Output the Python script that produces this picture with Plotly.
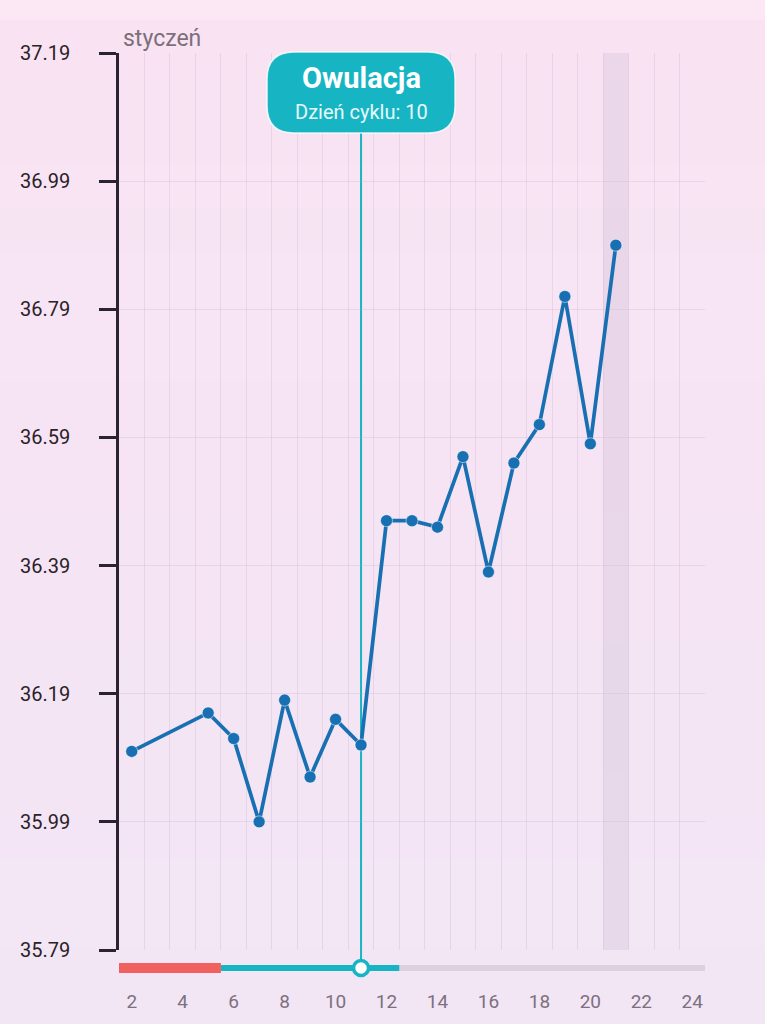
import plotly.graph_objects as go

# ---- data ----
days = [2, 5, 6, 7, 8, 9, 10, 11, 12, 13, 14, 15, 16, 17, 18, 19, 20, 21]
temps = [36.10, 36.16, 36.12, 35.99, 36.18, 36.06, 36.15, 36.11, 36.46, 36.46,
         36.45, 36.56, 36.38, 36.55, 36.61, 36.81, 36.58, 36.89]
y_ticks = [35.79, 35.99, 36.19, 36.39, 36.59, 36.79, 36.99, 37.19]
x_ticks = [2, 4, 6, 8, 10, 12, 14, 16, 18, 20, 22, 24]
month_label = "styczeń"
ovulation_day = 11
ovulation_title = "Owulacja"
ovulation_sub = "Dzień cyklu: 10"
today_day = 21
period_range = (1.5, 5.5)
fertile_range = (5.5, 12.5)
cycle_range = (1.5, 24.5)

# ---- style ----
W, H = 765, 1024
ML, MR, MT, MB = 119, 60, 53, 74
PW, PH = W - ML - MR, H - MT - MB
LINE_C = "#1870b2"
TEAL = "#17b5c3"
AXIS_C = "#2b2430"
GRID_C = "rgba(190,165,195,0.25)"


def py(pix):
    """pixel y (from top of page) -> paper y"""
    return (H - MB - pix) / PH


fig = go.Figure()
fig.add_trace(go.Scatter(
    x=days, y=temps, mode="lines+markers",
    line=dict(color=LINE_C, width=3.7),
    marker=dict(size=12, color=LINE_C, line=dict(color="rgba(255,255,255,0.5)", width=1)),
    cliponaxis=False, hoverinfo="skip", showlegend=False,
))

shapes = []
# background gradient bands
top_c = (249, 227, 243)
bot_c = (242, 230, 245)
n = 24
x_left, x_right = -ML / PW - 0.01, 1 + MR / PW + 0.01
y_bot, y_top = -MB / PH - 0.01, 1 + MT / PH + 0.01
for i in range(n):
    t = i / (n - 1)
    c = tuple(round(top_c[k] + (bot_c[k] - top_c[k]) * t) for k in range(3))
    y1 = y_top - (y_top - y_bot) * i / n
    y0 = y_top - (y_top - y_bot) * (i + 1) / n
    shapes.append(dict(type="rect", xref="paper", yref="paper", x0=x_left, x1=x_right,
                       y0=y0 - 0.002, y1=y1, fillcolor="rgb(%d,%d,%d)" % c,
                       line=dict(width=0), layer="below"))
# top lighter strip
shapes.append(dict(type="rect", xref="paper", yref="paper", x0=x_left, x1=x_right,
                   y0=py(20), y1=y_top, fillcolor="rgba(252,234,244,0.7)",
                   line=dict(width=0), layer="below"))

# today column
shapes.append(dict(type="rect", xref="x", yref="y", x0=today_day - 0.5, x1=today_day + 0.5,
                   y0=y_ticks[0], y1=y_ticks[-1], fillcolor="rgba(205,190,210,0.32)",
                   line=dict(width=0), layer="between"))

# bottom cycle bar
bar_y = py(968)
shapes.append(dict(type="line", xref="x", yref="paper", x0=cycle_range[0], x1=cycle_range[1],
                   y0=bar_y, y1=bar_y, line=dict(color="#dccfdf", width=6)))
shapes.append(dict(type="line", xref="x", yref="paper", x0=fertile_range[0], x1=fertile_range[1],
                   y0=bar_y, y1=bar_y, line=dict(color=TEAL, width=6)))
shapes.append(dict(type="line", xref="x", yref="paper", x0=period_range[0], x1=period_range[1],
                   y0=bar_y, y1=bar_y, line=dict(color="#f0605f", width=10)))

# ovulation line
tip_bottom = py(133)
shapes.append(dict(type="line", xref="x", yref="paper", x0=ovulation_day, x1=ovulation_day,
                   y0=bar_y, y1=tip_bottom, line=dict(color=TEAL, width=2), layer="between"))

# circle on bar
shapes.append(dict(type="circle", xref="x", yref="paper", xsizemode="pixel", ysizemode="pixel",
                   xanchor=ovulation_day, yanchor=bar_y, x0=-7.5, x1=7.5, y0=-7.5, y1=7.5,
                   fillcolor="white", line=dict(color=TEAL, width=3.5)))

# tooltip rounded rect
w2, h, r = 94, 81, 27
path = (f"M {-w2 + r},0 L {w2 - r},0 Q {w2},0 {w2},{r} L {w2},{h - r} "
        f"Q {w2},{h} {w2 - r},{h} L {-w2 + r},{h} Q {-w2},{h} {-w2},{h - r} "
        f"L {-w2},{r} Q {-w2},0 {-w2 + r},0 Z")
shapes.append(dict(type="path", xref="x", yref="paper", xsizemode="pixel", ysizemode="pixel",
                   xanchor=ovulation_day, yanchor=tip_bottom, path=path,
                   fillcolor=TEAL, line=dict(color="rgba(255,255,255,0.8)", width=1.5)))

annotations = [
    dict(text=month_label, xref="paper", yref="paper", x=0, y=py(38), xshift=2,
         xanchor="left", yanchor="middle", showarrow=False,
         font=dict(family="Roboto", size=23, color="#7b6f7a")),
    dict(text="<b>" + ovulation_title + "</b>", xref="x", yref="paper", x=ovulation_day,
         y=py(78), xanchor="center", yanchor="middle", showarrow=False,
         font=dict(family="Roboto", size=29, color="white")),
    dict(text=ovulation_sub, xref="x", yref="paper", x=ovulation_day,
         y=py(112), xanchor="center", yanchor="middle", showarrow=False,
         font=dict(family="Roboto", size=20, color="#e6f8fa")),
]

fig.update_layout(
    width=W, height=H,
    margin=dict(l=ML, r=MR, t=MT, b=MB, pad=0),
    paper_bgcolor="#f4e6f4", plot_bgcolor="rgba(0,0,0,0)",
    shapes=shapes, annotations=annotations, showlegend=False,
    xaxis=dict(range=list(cycle_range), tickvals=x_ticks, ticktext=[str(v) for v in x_ticks],
               showgrid=False, zeroline=False, showline=False, ticks="",
               ticklabelstandoff=38,
               tickfont=dict(family="Roboto", size=19, color="#7d7080"),
               minor=dict(tick0=0.5, dtick=1, showgrid=True, gridcolor=GRID_C, gridwidth=1)),
    yaxis=dict(range=[y_ticks[0], y_ticks[-1]], tickvals=y_ticks,
               ticktext=["%.2f" % v for v in y_ticks],
               showgrid=True, gridcolor=GRID_C, gridwidth=1, zeroline=False,
               showline=True, linecolor=AXIS_C, linewidth=2.5,
               ticks="outside", ticklen=17, tickwidth=2.5, tickcolor=AXIS_C,
               ticklabelstandoff=25,
               tickfont=dict(family="Roboto", size=20, color="#2a2228")),
)

fig.write_html("out.html", config={"displayModeBar": False},
               post_script="document.body.style.margin='0';document.body.style.overflow='hidden';")
